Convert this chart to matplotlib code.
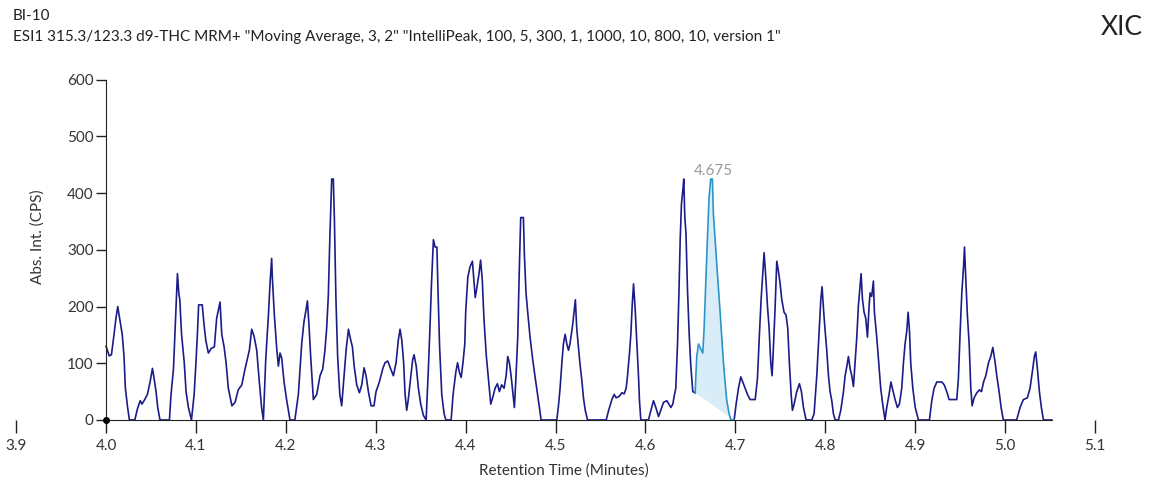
import numpy as np
import matplotlib.pyplot as plt

plt.rcParams['font.family'] = ['Lato', 'DejaVu Sans']

# XIC trace (time in minutes, intensity in cps)
rt = [4.000, 4.0036, 4.006, 4.0089, 4.011, 4.013, 4.016, 4.018, 4.020, 4.0215, 4.024, 4.026, 4.032,
      4.035, 4.038, 4.040, 4.043, 4.046, 4.049, 4.0516, 4.053, 4.0556, 4.0575, 4.060, 4.0705, 4.0723,
      4.075, 4.077, 4.0794, 4.081, 4.082, 4.084, 4.087, 4.089, 4.0916, 4.095, 4.098, 4.100, 4.1016,
      4.103, 4.107, 4.109, 4.111, 4.1138, 4.117, 4.1205, 4.123, 4.1268, 4.1287, 4.1313, 4.1335, 4.136,
      4.140, 4.1435, 4.147, 4.151, 4.1546, 4.1594, 4.162, 4.1646, 4.1676, 4.1705, 4.173, 4.175, 4.1776,
      4.1806, 4.1824, 4.1842, 4.185, 4.1872, 4.190, 4.1917, 4.1935, 4.1954, 4.198, 4.201, 4.2046, 4.210,
      4.2139, 4.2176, 4.2202, 4.222, 4.224, 4.2257, 4.2276, 4.2306, 4.2343, 4.238, 4.241, 4.2435, 4.2454,
      4.2472, 4.249, 4.251, 4.2528, 4.254, 4.2557, 4.2576, 4.260, 4.2621, 4.2647, 4.267, 4.2696, 4.2714,
      4.274, 4.276, 4.2788, 4.2818, 4.2844, 4.287, 4.2892, 4.2918, 4.2948, 4.298, 4.3003, 4.304, 4.3077,
      4.3103, 4.3133, 4.3166, 4.3196, 4.3226, 4.325, 4.327, 4.329, 4.331, 4.3326, 4.3344, 4.336, 4.339,
      4.341, 4.3426, 4.345, 4.3474, 4.350, 4.353, 4.356, 4.3585, 4.360, 4.362, 4.3641, 4.366, 4.368,
      4.369, 4.371, 4.3734, 4.376, 4.378, 4.3838, 4.386, 4.389, 4.391, 4.393, 4.395, 4.397, 4.399,
      4.400, 4.4024, 4.4048, 4.4075, 4.4094, 4.4106, 4.4121, 4.4148, 4.4166, 4.4185, 4.4203, 4.423,
      4.4253, 4.4279, 4.4305, 4.4327, 4.4353, 4.4375, 4.440, 4.4427, 4.445, 4.4468, 4.4486, 4.4505,
      4.4523, 4.4542, 4.456, 4.4579, 4.4597, 4.4612, 4.4642, 4.4653, 4.4671, 4.469, 4.4716, 4.4746,
      4.477, 4.480, 4.482, 4.4839, 4.5013, 4.503, 4.505, 4.507, 4.5087, 4.5106, 4.5125, 4.5143, 4.516,
      4.519, 4.522, 4.5235, 4.5254, 4.527, 4.5292, 4.531, 4.533, 4.5355, 4.5563, 4.559, 4.5626, 4.5652,
      4.5674, 4.571, 4.5737, 4.5763, 4.5785, 4.580, 4.5822, 4.5837, 4.5852, 4.5867, 4.5885, 4.5904,
      4.5922, 4.5933, 4.5948, 4.6033, 4.606, 4.6089, 4.6119, 4.6145, 4.617, 4.620, 4.6237, 4.626,
      4.6282, 4.6304, 4.6319, 4.6337, 4.6356, 4.6371, 4.6386, 4.640, 4.6415, 4.6426, 4.6437, 4.645,
      4.6467, 4.6486, 4.6504, 4.6526, 4.6552, 4.657, 4.659, 4.6615, 4.6637, 4.6652, 4.667, 4.669,
      4.6707, 4.6726, 4.6744, 4.6755, 4.6774, 4.6793, 4.681, 4.683, 4.6848, 4.6867, 4.6885, 4.6904,
      4.693, 4.695, 4.6986, 4.7008, 4.7034, 4.706, 4.7082, 4.7108, 4.7134, 4.7163, 4.722, 4.7245,
      4.7267, 4.7286, 4.7304, 4.7319, 4.7338, 4.7356, 4.7375, 4.7393, 4.7408, 4.7423, 4.7441, 4.746,
      4.7478, 4.7497, 4.7515, 4.7541, 4.7563, 4.7582, 4.760, 4.762, 4.7634, 4.7653, 4.7682, 4.7712,
      4.7734, 4.7757, 4.7786, 4.785, 4.7875, 4.7905, 4.7931, 4.795, 4.7964, 4.798, 4.7998, 4.8016,
      4.8035, 4.8053, 4.8072, 4.809, 4.811, 4.8146, 4.8172, 4.8202, 4.822, 4.824, 4.8257, 4.8276,
      4.8294, 4.8313, 4.8331, 4.835, 4.8368, 4.838, 4.8398, 4.8413, 4.8431, 4.845, 4.8469, 4.8487,
      4.8498, 4.8516, 4.8535, 4.8546, 4.8572, 4.8594, 4.8616, 4.8638, 4.8664, 4.8683, 4.8709, 4.873,
      4.875, 4.8776, 4.8802, 4.8824, 4.885, 4.8869, 4.8887, 4.8906, 4.8921, 4.8936, 4.895, 4.8973,
      4.900, 4.9036, 4.9158, 4.9184, 4.921, 4.924, 4.9296, 4.9322, 4.9351, 4.9377, 4.9462, 4.948,
      4.950, 4.9518, 4.9537, 4.9548, 4.9563, 4.958, 4.960, 4.9618, 4.9633, 4.9655, 4.9685, 4.9714,
      4.9737, 4.976, 4.9785, 4.9815, 4.984, 4.9863, 4.9889, 4.9907, 4.9933, 4.9955, 4.998, 5.0128,
      5.0166, 5.0203, 5.0247, 5.0277, 5.0307, 5.0325, 5.034, 5.0359, 5.0381, 5.0403, 5.0426, 5.0518]
cps = [130, 113, 115, 151, 179, 200, 171, 151, 112, 56, 22, 0, 0,
       20, 34, 28, 36, 45, 67, 91, 78, 50, 22, 0, 0, 45,
       90, 168, 258, 222, 213, 151, 101, 50, 22, 0, 45, 101, 151,
       203, 203, 168, 140, 118, 126, 129, 179, 208, 151, 129, 101, 56,
       25, 31, 53, 62, 90, 123, 160, 148, 123, 67, 22, 0, 106,
       185, 241, 285, 250, 185, 123, 95, 118, 109, 67, 34, 0, 0,
       45, 134, 174, 190, 210, 168, 112, 36, 45, 78, 90, 123, 162,
       218, 325, 425, 425, 353, 213, 112, 45, 25, 78, 123, 160, 146,
       129, 95, 62, 48, 62, 92, 78, 50, 25, 25, 50, 67, 90,
       101, 104, 90, 78, 101, 140, 160, 140, 101, 45, 17, 34, 78,
       106, 115, 95, 56, 28, 8, 0, 90, 151, 241, 318, 305, 305,
       241, 129, 45, 11, 0, 0, 45, 84, 101, 84, 75, 101, 134,
       190, 252, 270, 280, 241, 216, 230, 258, 282, 246, 179, 112,
       73, 28, 42, 56, 64, 50, 62, 56, 78, 112, 101, 78,
       50, 22, 78, 146, 269, 357, 357, 291, 224, 190, 146, 106,
       78, 45, 22, 0, 0, 22, 56, 101, 134, 151, 134, 123, 134,
       168, 212, 162, 130, 101, 70, 39, 17, 0, 0, 17, 36, 45,
       39, 42, 48, 46, 56, 78, 118, 151, 202, 240, 196, 134,
       78, 34, 0, 0, 17, 34, 20, 6, 17, 31, 34, 28,
       22, 28, 42, 56, 134, 218, 319, 381, 405, 425, 358, 330,
       230, 151, 95, 50, 48, 112, 134, 125, 118, 162, 241, 325,
       392, 425, 425, 364, 319, 274, 235, 190, 146, 101, 67, 34,
       11, 0, 0, 28, 56, 76, 67, 56, 45, 36, 36, 73,
       151, 213, 258, 295, 252, 202, 162, 101, 78, 129, 196, 280,
       263, 241, 213, 190, 185, 162, 101, 45, 17, 28, 50, 64,
       50, 22, 0, 0, 11, 78, 157, 213, 235, 195, 157, 123,
       78, 50, 34, 11, 0, 0, 17, 50, 78, 95, 112, 90,
       78, 59, 101, 146, 202, 224, 258, 213, 190, 179, 146, 202,
       224, 218, 245, 190, 146, 101, 56, 28, 0, 22, 45, 67,
       53, 36, 22, 28, 56, 101, 134, 157, 190, 157, 101, 56,
       22, 0, 0, 34, 56, 67, 67, 62, 50, 36, 36, 73,
       157, 224, 269, 305, 246, 185, 134, 56, 25, 39, 48, 53,
       50, 67, 78, 101, 112, 128, 101, 78, 50, 22, 0, 0,
       22, 36, 39, 56, 90, 112, 120, 90, 50, 22, 0, 0]

peak_start, peak_end = 4.6552, 4.6986
peak_rt = 4.675
xticks = [3.9, 4.0, 4.1, 4.2, 4.3, 4.4, 4.5, 4.6, 4.7, 4.8, 4.9, 5.0, 5.1]
yticks = [0, 100, 200, 300, 400, 500, 600]

rt = np.array(rt)
cps = np.array(cps)

fig = plt.figure(figsize=(11.51, 4.88), dpi=100)
ax = fig.add_axes([0.0062, 0.1336, 0.953, 0.7494])

navy = '#1c1c88'
teal = '#2b95c8'

inside = (rt >= peak_start) & (rt <= peak_end)
before = rt <= peak_start
after = rt >= peak_end
ax.plot(rt[before], cps[before], color=navy, lw=1.2)
ax.plot(rt[after], cps[after], color=navy, lw=1.2)

# integrated peak: baseline drawn from start point to end point
pr = rt[inside]
pc = cps[inside]
base = np.interp(pr, [pr[0], pr[-1]], [pc[0], pc[-1]])
ax.fill_between(pr, base, pc, color='#d9edf9', lw=0)
ax.plot(pr, pc, color=teal, lw=1.2)

ax.annotate(f'{peak_rt:.3f}', xy=(peak_rt, cps[inside].max()), xytext=(0, 1),
            textcoords='offset points', ha='center', va='bottom', color='#999999', fontsize=11)

ax.plot([4.0], [0], 'o', color='black', ms=4, zorder=5)

ax.set_xlim(3.89, 5.11)
ax.set_ylim(-5, 640)
for s in ['top', 'right']:
    ax.spines[s].set_visible(False)
ax.spines['left'].set_position(('data', 4.0))
ax.spines['bottom'].set_position(('data', 0))
ax.spines['left'].set_bounds(0, 600)
ax.spines['bottom'].set_bounds(4.0, rt[-1])
ax.spines['left'].set_color('#222222')
ax.spines['bottom'].set_color('#222222')

ax.set_xticks(xticks)
ax.set_xticklabels([f'{x:.1f}' for x in xticks])
ax.set_yticks(yticks)
ax.tick_params(axis='x', length=9, width=1, colors='#222222', labelcolor='#333333', labelsize=11, pad=5)
ax.tick_params(axis='y', length=7, width=1, colors='#222222', labelcolor='#333333', labelsize=11, pad=2)

fig.text(0.49, 0.036, 'Retention Time (Minutes)', ha='center', va='center', fontsize=11, color='#333333')
fig.text(0.033, 0.514, 'Abs. Int. (CPS)', ha='center', va='center', rotation=90, fontsize=11, color='#333333')

fig.text(0.011, 0.967, 'BI-10', ha='left', va='center', fontsize=11, color='#222222')
fig.text(0.011, 0.924,
         'ESI1 315.3/123.3 d9-THC MRM+ "Moving Average, 3, 2" "IntelliPeak, 100, 5, 300, 1, 1000, 10, 800, 10, version 1"',
         ha='left', va='center', fontsize=11, color='#222222')
fig.text(0.956, 0.944, 'XIC', ha='left', va='center', fontsize=19, color='#222222')

fig.savefig('out.png', dpi=100)
